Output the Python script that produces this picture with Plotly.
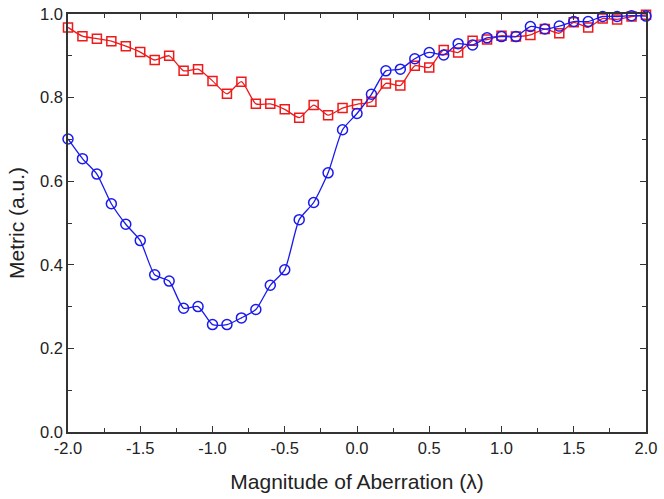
import plotly.graph_objects as go

x_vals = [round(-2.0 + 0.1 * i, 1) for i in range(41)]

blue_vals = [0.701, 0.654, 0.617, 0.546, 0.497, 0.458, 0.376, 0.361, 0.296, 0.300,
             0.257, 0.257, 0.273, 0.293, 0.351, 0.388, 0.508, 0.549, 0.620, 0.723,
             0.762, 0.808, 0.864, 0.868, 0.893, 0.908, 0.902, 0.929, 0.926, 0.943,
             0.946, 0.946, 0.970, 0.964, 0.971, 0.982, 0.982, 0.994, 0.994, 0.996,
             0.995]

red_vals = [0.968, 0.947, 0.941, 0.935, 0.923, 0.909, 0.890, 0.900, 0.864, 0.868,
            0.840, 0.809, 0.838, 0.785, 0.785, 0.772, 0.752, 0.782, 0.758, 0.775,
            0.784, 0.790, 0.834, 0.829, 0.876, 0.872, 0.914, 0.908, 0.936, 0.939,
            0.948, 0.946, 0.950, 0.964, 0.954, 0.980, 0.968, 0.989, 0.987, 0.994,
            0.998]

x_tick_vals = [-2.0, -1.5, -1.0, -0.5, 0.0, 0.5, 1.0, 1.5, 2.0]
x_tick_text = ["-2.0", "-1.5", "-1.0", "-0.5", "0.0", "0.5", "1.0", "1.5", "2.0"]
y_tick_vals = [0.0, 0.2, 0.4, 0.6, 0.8, 1.0]
y_tick_text = ["0.0", "0.2", "0.4", "0.6", "0.8", "1.0"]

BLUE = "#1a1aee"
RED = "#ee1a1a"
FONT = "Liberation Sans, Arial, sans-serif"

fig = go.Figure()
fig.add_trace(go.Scatter(
    x=x_vals, y=red_vals, mode="lines+markers",
    line=dict(color=RED, width=1.3, shape="spline", smoothing=0.6),
    marker=dict(symbol="square-open", size=9, color=RED, line=dict(width=1.5, color=RED)),
    showlegend=False, cliponaxis=False,
))
fig.add_trace(go.Scatter(
    x=x_vals, y=blue_vals, mode="lines+markers",
    line=dict(color=BLUE, width=1.3, shape="spline", smoothing=0.6),
    marker=dict(symbol="circle-open", size=10, color=BLUE, line=dict(width=1.5, color=BLUE)),
    showlegend=False, cliponaxis=False,
))

axis_common = dict(
    showline=True, linecolor="#333333", linewidth=1.5, mirror="ticks",
    ticks="inside", ticklen=6, tickwidth=1.3, tickcolor="#333333",
    showgrid=False, zeroline=False, automargin=False,
    tickfont=dict(family=FONT, size=16.5, color="#222222"),
)

fig.update_xaxes(
    range=[-2.0, 2.0], tickmode="array", tickvals=x_tick_vals, ticktext=x_tick_text,
    minor=dict(ticks="inside", ticklen=4, tickwidth=1.2, tickcolor="#333333", dtick=0.25, tick0=0),
    title=dict(text="Magnitude of Aberration (λ)", standoff=19,
               font=dict(family=FONT, size=21, color="#222222")),
    **axis_common,
)
fig.update_yaxes(
    range=[0.0, 1.0], tickmode="array", tickvals=y_tick_vals, ticktext=y_tick_text,
    minor=dict(ticks="inside", ticklen=4, tickwidth=1.2, tickcolor="#333333", dtick=0.1, tick0=0),
    title=dict(text="Metric (a.u.)", standoff=10,
               font=dict(family=FONT, size=21, color="#222222")),
    **axis_common,
)

fig.update_layout(
    width=664, height=499,
    margin=dict(l=68, r=18, t=14, b=67),
    paper_bgcolor="white", plot_bgcolor="white",
)

fig.write_html("out.html", config={"displayModeBar": False},
               post_script="document.body.style.margin='0';")
